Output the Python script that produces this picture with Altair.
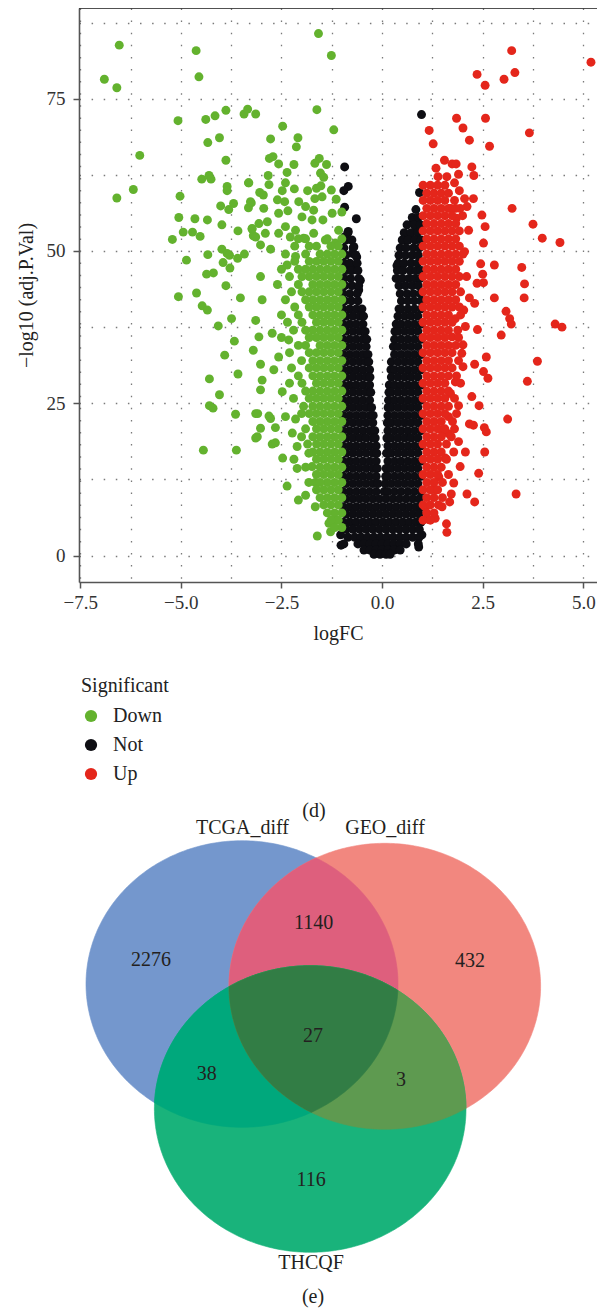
import altair as alt
import pandas as pd
import numpy as np

FONT = "Liberation Serif"

# ---------------- volcano data: (logFC, -log10 adj.P.Val) ----------------
down_sparse = [
    (-6.53, 83.8), (-6.90, 78.2), (-6.59, 76.8), (-4.62, 82.9), (-4.55, 78.6), (-6.02, 65.7), (-6.18, 60.1), (-6.59, 58.7),
    (-5.07, 71.4), (-4.38, 71.6), (-4.15, 72.2), (-3.88, 73.1), (-4.33, 67.8), (-4.04, 68.6), (-3.88, 64.9), (-3.43, 72.5),
    (-3.34, 73.3), (-3.14, 72.5), (-5.02, 59.0), (-4.48, 61.8), (-4.30, 62.4), (-4.25, 61.8), (-3.85, 60.6), (-3.85, 59.9),
    (-3.32, 61.2), (-4.01, 57.4), (-3.81, 56.8), (-3.69, 57.8), (-3.32, 57.1), (-3.25, 57.9), (-5.05, 55.5), (-4.65, 55.3),
    (-4.34, 55.1), (-3.98, 54.3), (-3.58, 53.3), (-3.23, 53.6), (-3.20, 52.5), (-5.21, 51.9), (-4.94, 53.1), (-4.71, 53.1),
    (-4.52, 52.4), (-3.98, 50.3), (-3.85, 49.6), (-3.79, 49.3), (-3.59, 48.8), (-3.42, 49.5), (-4.86, 48.5), (-4.33, 49.4),
    (-3.95, 48.1), (-3.78, 47.2), (-4.36, 46.2), (-4.19, 46.4), (-3.88, 44.3), (-5.06, 42.5), (-4.61, 43.1), (-3.52, 42.3),
    (-4.47, 41.0), (-4.34, 40.3), (-3.74, 38.9), (-4.07, 37.7), (-3.14, 38.6), (-3.67, 35.2), (-3.20, 33.7), (-3.91, 32.9),
    (-4.29, 29.0), (-3.58, 29.8), (-4.04, 26.4), (-4.29, 24.6), (-4.20, 24.2), (-3.64, 23.2), (-3.14, 23.3), (-3.14, 19.3),
    (-4.44, 17.3), (-3.62, 17.3),
    (-1.58, 85.7), (-1.26, 82.1), (-1.62, 73.2), (-1.20, 69.9), (-2.47, 70.5), (-2.77, 68.4), (-2.09, 68.6), (-2.13, 67.1),
    (-2.80, 65.2), (-2.71, 65.5), (-2.57, 64.3), (-2.19, 64.2), (-1.67, 64.4), (-1.56, 65.2), (-1.38, 64.2), (-2.36, 62.9),
    (-2.83, 62.4), (-3.31, 61.2), (-2.81, 60.9), (-2.40, 61.2), (-2.48, 59.9), (-2.18, 60.2), (-1.53, 62.8), (-1.45, 62.1),
    (-1.85, 59.9), (-1.63, 60.3), (-1.52, 60.7), (-1.26, 60.0), (-1.67, 58.6), (-1.49, 58.9), (-3.04, 59.6), (-2.95, 59.2),
    (-3.27, 58.1), (-2.60, 58.4), (-2.42, 58.1), (-2.94, 57.0), (-2.57, 56.2), (-2.34, 56.6), (-2.07, 58.1), (-1.90, 57.3),
    (-1.70, 56.7), (-1.99, 55.6), (-1.74, 55.1), (-1.47, 55.1), (-1.24, 56.2), (-1.14, 58.5), (-1.00, 56.4), (-3.23, 53.7),
    (-3.06, 54.5), (-2.85, 54.8), (-3.14, 52.3), (-2.90, 52.9), (-2.40, 54.0), (-2.57, 52.9), (-2.28, 52.3), (-2.15, 53.4),
    (-1.95, 52.1), (-1.70, 52.9), (-1.41, 51.8), (-1.16, 51.3), (-1.08, 53.4), (-3.02, 51.0), (-2.77, 50.3), (-2.15, 49.1),
    (-2.36, 47.7), (-3.02, 45.8),
    (-2.98, 42.0), (-3.02, 31.4), (-2.98, 28.8), (-3.02, 27.2), (-3.09, 23.3), (-3.02, 20.9), (-3.10, 19.5), (-2.77, 22.5),
    (-2.65, 21.0), (-2.73, 18.3), (-2.65, 18.5), (-2.47, 16.0), (-2.19, 15.8), (-2.11, 14.3), (-2.36, 11.4), (-2.08, 9.1),
    (-1.90, 9.9), (-1.82, 12.0), (-1.66, 12.0), (-1.66, 8.0), (-1.32, 5.3), (-1.28, 3.9), (-1.61, 3.2), (-1.16, 5.8),
    (-3.06, 35.9), (-2.69, 30.5), (-2.48, 26.9), (-2.81, 22.9), (-2.40, 22.8), (-2.15, 22.4), (-2.23, 20.1), (-2.11, 17.9),
    (-1.82, 16.8), (-1.74, 14.6), (-2.57, 32.6), (-2.32, 35.4), (-2.73, 36.5),
]
down_dense = {
    52.0: [-1.0, -1.36, -1.9, -2.08], 50.8: [-1.09, -1.27, -1.63, -1.81, -2.17],
    49.5: [-1.0, -1.18, -1.36, -1.54, -1.9, -2.4], 48.3: [-1.09, -1.27, -1.45, -1.63, -1.81, -2.17],
    47.0: [-1.0, -1.18, -1.36, -1.54, -1.72, -1.9, -2.08, -2.5], 45.8: [-1.09, -1.27, -1.45, -1.63, -1.81, -1.99, -2.3],
    44.5: [-1.0, -1.18, -1.36, -1.54, -1.72, -2.08, -2.6], 43.3: [-1.09, -1.27, -1.45, -1.63, -1.81, -1.99, -2.25],
    42.0: [-1.0, -1.18, -1.36, -1.54, -1.72, -1.9, -2.4], 40.8: [-1.09, -1.27, -1.45, -1.63, -1.81, -2.17],
    39.5: [-1.0, -1.18, -1.36, -1.54, -1.72, -2.08, -2.5], 38.3: [-1.09, -1.27, -1.45, -1.63, -1.99, -2.35],
    37.0: [-1.0, -1.18, -1.36, -1.54, -1.72, -1.9, -2.2], 35.8: [-1.09, -1.27, -1.45, -1.63, -1.81, -2.5],
    34.5: [-1.0, -1.18, -1.36, -1.54, -1.9, -2.08], 33.3: [-1.09, -1.27, -1.45, -1.63, -1.81, -2.3],
    32.0: [-1.0, -1.18, -1.36, -1.54, -1.72, -2.0], 30.8: [-1.09, -1.27, -1.45, -1.63, -1.81, -2.25],
    29.5: [-1.0, -1.18, -1.36, -1.54, -1.72, -2.08], 28.3: [-1.09, -1.27, -1.45, -1.63, -1.99, -2.3],
    27.0: [-1.0, -1.18, -1.36, -1.54, -1.72, -1.9], 25.8: [-1.09, -1.27, -1.45, -1.63, -1.81, -2.2],
    24.5: [-1.0, -1.18, -1.36, -1.54, -1.72, -1.95], 23.3: [-1.09, -1.27, -1.45, -1.63, -1.81, -2.0],
    22.0: [-1.0, -1.18, -1.36, -1.54, -1.72], 20.8: [-1.09, -1.27, -1.45, -1.63, -1.9],
    19.5: [-1.0, -1.18, -1.36, -1.54, -1.72, -2.0], 18.3: [-1.09, -1.27, -1.45, -1.63, -1.85],
    17.0: [-1.0, -1.18, -1.36, -1.54, -1.72], 15.8: [-1.09, -1.27, -1.45, -1.63],
    14.5: [-1.0, -1.18, -1.36, -1.54, -1.9], 13.3: [-1.09, -1.27, -1.45, -1.63],
    12.0: [-1.0, -1.18, -1.36, -1.54], 10.8: [-1.09, -1.27, -1.45, -1.63],
    9.5: [-1.0, -1.18, -1.36, -1.54], 8.3: [-1.09, -1.27, -1.45], 7.0: [-1.0, -1.18, -1.36],
    5.8: [-1.09, -1.27], 4.6: [-1.0, -1.18],
}
not_sparse = [
    (-0.93, 63.8), (-0.84, 60.6), (-0.95, 59.9), (-0.93, 57.2), (-0.64, 55.3), (-0.84, 53.2), (-0.93, 52.3),
    (-0.70, 50.7), (-0.74, 49.6), (-0.63, 49.0), (-0.54, 45.2), (-0.58, 43.6), (-0.66, 47.2), (-0.81, 47.4),
    (0.98, 72.4), (0.93, 59.6), (0.84, 56.8), (0.78, 54.8), (0.54, 51.8), (0.68, 52.6), (0.83, 53.4),
    (0.37, 47.6), (0.50, 46.9), (-1.03, 3.4), (-1.02, 1.7), (0.91, 1.4), (0.99, 3.4),
]
not_dense = {
    55.5: [0.75, 0.9], 54.3: [0.62, 0.8, 0.95], 53.0: [-0.85, 0.55, 0.72, 0.88],
    51.8: [-0.9, -0.75, 0.5, 0.65, 0.82, 0.97], 50.5: [-0.95, -0.72, 0.45, 0.6, 0.78, 0.93],
    49.3: [-0.9, -0.65, 0.42, 0.58, 0.75, 0.9], 48.0: [-0.95, -0.8, -0.62, 0.4, 0.55, 0.72, 0.88],
    46.8: [-0.9, -0.75, -0.6, 0.38, 0.52, 0.7, 0.85, 0.97], 45.5: [-0.95, -0.78, -0.58, 0.35, 0.5, 0.67, 0.82, 0.95],
    44.3: [-0.92, -0.75, -0.58, 0.42, 0.58, 0.75, 0.9], 43.0: [-0.97, -0.8, -0.62, 0.45, 0.62, 0.78, 0.95],
    41.8: [-0.92, -0.76, -0.6, 0.48, 0.64, 0.8, 0.96],
    40.5: [-0.97, -0.805, -0.64, -0.5, 0.42, 0.475, 0.64, 0.805, 0.97],
    39.3: [-0.89, -0.725, -0.56, -0.46, 0.395, 0.56, 0.725, 0.89],
    38.0: [-0.97, -0.805, -0.64, -0.475, 0.35, 0.475, 0.64, 0.805, 0.97],
    36.8: [-0.89, -0.725, -0.56, -0.42, 0.32, 0.395, 0.56, 0.725, 0.89],
    35.5: [-0.97, -0.805, -0.64, -0.475, -0.38, 0.31, 0.475, 0.64, 0.805, 0.97],
    34.3: [-0.89, -0.725, -0.56, -0.395, 0.28, 0.395, 0.56, 0.725, 0.89],
    33.0: [-0.97, -0.805, -0.64, -0.475, -0.35, 0.31, 0.475, 0.64, 0.805, 0.97],
    31.8: [-0.89, -0.725, -0.56, -0.395, -0.33, 0.23, 0.395, 0.56, 0.725, 0.89],
    30.5: [-0.97, -0.805, -0.64, -0.475, -0.31, 0.22, 0.31, 0.475, 0.64, 0.805, 0.97],
    29.3: [-0.89, -0.725, -0.56, -0.395, -0.3, 0.23, 0.395, 0.56, 0.725, 0.89],
    28.0: [-0.97, -0.805, -0.64, -0.475, -0.31, 0.18, 0.31, 0.475, 0.64, 0.805, 0.97],
    26.8: [-0.89, -0.725, -0.56, -0.395, -0.28, 0.17, 0.23, 0.395, 0.56, 0.725, 0.89],
    25.5: [-0.97, -0.805, -0.64, -0.475, -0.31, 0.16, 0.31, 0.475, 0.64, 0.805, 0.97],
    24.3: [-0.89, -0.725, -0.56, -0.395, -0.26, 0.15, 0.23, 0.395, 0.56, 0.725, 0.89],
    23.0: [-0.97, -0.805, -0.64, -0.475, -0.31, -0.22, 0.145, 0.31, 0.475, 0.64, 0.805, 0.97],
    21.8: [-0.89, -0.725, -0.56, -0.395, -0.23, 0.13, 0.23, 0.395, 0.56, 0.725, 0.89],
    20.5: [-0.97, -0.805, -0.64, -0.475, -0.31, -0.18, 0.145, 0.31, 0.475, 0.64, 0.805, 0.97],
    19.3: [-0.89, -0.725, -0.56, -0.395, -0.23, -0.17, 0.12, 0.23, 0.395, 0.56, 0.725, 0.89],
    18.0: [-0.97, -0.805, -0.64, -0.475, -0.31, -0.145, 0.145, 0.31, 0.475, 0.64, 0.805, 0.97],
    16.8: [-0.89, -0.725, -0.56, -0.395, -0.23, -0.13, 0.11, 0.23, 0.395, 0.56, 0.725, 0.89],
    15.5: [-0.97, -0.805, -0.64, -0.475, -0.31, -0.145, 0.145, 0.31, 0.475, 0.64, 0.805, 0.97],
    14.3: [-0.89, -0.725, -0.56, -0.395, -0.23, -0.12, 0.1, 0.23, 0.395, 0.56, 0.725, 0.89],
    13.0: [-0.97, -0.805, -0.64, -0.475, -0.31, -0.145, 0.09, 0.145, 0.31, 0.475, 0.64, 0.805, 0.97],
    11.8: [-0.89, -0.725, -0.56, -0.395, -0.23, -0.1, 0.08, 0.23, 0.395, 0.56, 0.725, 0.89],
    10.5: [-0.97, -0.805, -0.64, -0.475, -0.31, -0.145, 0.05, 0.145, 0.31, 0.475, 0.64, 0.805, 0.97],
    9.3: [-0.89, -0.725, -0.56, -0.395, -0.23, -0.065, 0.1, 0.265, 0.43, 0.595, 0.76, 0.925],
    8.0: [-0.97, -0.805, -0.64, -0.475, -0.31, -0.145, 0.02, 0.185, 0.35, 0.515, 0.68, 0.845, 0.97],
    6.8: [-0.89, -0.725, -0.56, -0.395, -0.23, -0.065, 0.1, 0.265, 0.43, 0.595, 0.76, 0.925],
    5.5: [-0.97, -0.805, -0.64, -0.475, -0.31, -0.145, 0.02, 0.185, 0.35, 0.515, 0.68, 0.845, 0.97],
    4.3: [-0.89, -0.725, -0.56, -0.395, -0.23, -0.065, 0.1, 0.265, 0.43, 0.595, 0.76, 0.925],
    3.0: [-0.85, -0.68, -0.52, -0.36, -0.2, -0.04, 0.12, 0.28, 0.44, 0.6, 0.76, 0.92],
    1.9: [-0.95, -0.6, -0.45, -0.3, -0.15, 0.0, 0.15, 0.3, 0.45, 0.6, 0.9],
    0.9: [-0.45, -0.3, -0.15, 0.0, 0.15, 0.3, 0.45],
    0.2: [-0.2, -0.05, 0.1, 0.2],
}
up_sparse = [
    (3.22, 82.9), (5.19, 81.0), (2.36, 79.0), (2.56, 77.2), (3.03, 78.2), (3.30, 79.3), (1.85, 71.8), (2.57, 71.8),
    (2.01, 70.2), (1.17, 69.8), (3.66, 69.4), (1.27, 67.6), (2.17, 68.2), (2.67, 67.2), (1.55, 64.9), (1.74, 64.3),
    (1.84, 64.3), (2.23, 63.8), (2.28, 62.4), (1.34, 63.6), (1.39, 62.2), (1.61, 62.2), (1.90, 62.6), (1.80, 61.2),
    (1.92, 59.9), (2.05, 58.6), (2.27, 58.6), (2.11, 57.3), (1.94, 57.0), (1.71, 57.0), (1.85, 55.4), (2.48, 55.9),
    (2.56, 54.0), (2.15, 53.4), (2.52, 51.3), (2.05, 49.9), (3.23, 57.0), (3.75, 54.4), (3.98, 52.1), (4.42, 51.4),
    (2.45, 47.9), (2.79, 47.7), (2.50, 46.2), (2.36, 44.7), (2.52, 44.8), (3.47, 47.3), (3.54, 44.6), (3.53, 42.3),
    (2.79, 42.3), (2.17, 42.3), (2.30, 41.4), (3.08, 40.1), (3.17, 38.9), (3.21, 38.0), (4.30, 38.0), (4.47, 37.5),
    (2.37, 37.1), (2.96, 36.2), (3.86, 31.9), (3.61, 28.6), (2.59, 32.6), (2.30, 31.4), (2.52, 30.2), (2.63, 29.1),
    (2.01, 34.6), (2.01, 31.0), (2.23, 26.1), (2.41, 24.6), (1.90, 24.6), (3.12, 22.4), (2.17, 21.6), (2.27, 21.4),
    (2.54, 21.0), (2.59, 20.3), (2.55, 17.0), (2.40, 13.5), (2.11, 10.1), (2.30, 8.8), (3.33, 10.1), (1.60, 5.2),
    (1.61, 3.8), (1.65, 20.0), (1.90, 18.7), (2.07, 17.0), (1.94, 14.6), (1.78, 11.9), (1.72, 10.1), (1.68, 8.8),
    (1.49, 8.0), (1.32, 6.1), (1.16, 5.9), (1.82, 38.9), (2.07, 37.6), (2.03, 40.3), (1.74, 35.9), (1.98, 33.2),
    (1.82, 28.5), (1.70, 26.6), (1.65, 22.8), (1.49, 20.6), (1.57, 16.0), (1.41, 12.9), (1.32, 10.8), (1.07, 8.0),
]
up_dense = {
    60.8: [1.02, 1.2, 1.38, 1.56], 59.5: [1.11, 1.29, 1.47, 1.65], 58.3: [1.02, 1.2, 1.38, 1.56, 1.8],
    57.0: [1.11, 1.29, 1.47, 1.65, 1.83], 55.8: [1.02, 1.2, 1.38, 1.56, 1.74, 2.0],
    54.5: [1.11, 1.29, 1.47, 1.65, 1.83], 53.3: [1.02, 1.2, 1.38, 1.56, 1.74, 1.92],
    52.0: [1.11, 1.29, 1.47, 1.65, 1.83], 50.8: [1.02, 1.2, 1.38, 1.56, 1.74, 1.92],
    49.5: [1.11, 1.29, 1.47, 1.65, 1.83, 2.01], 48.3: [1.02, 1.2, 1.38, 1.56, 1.74, 1.92],
    47.0: [1.11, 1.29, 1.47, 1.65, 1.83], 45.8: [1.02, 1.2, 1.38, 1.56, 1.74, 1.92, 2.1],
    44.5: [1.11, 1.29, 1.47, 1.65, 1.83], 43.3: [1.02, 1.2, 1.38, 1.56, 1.74, 1.95],
    42.0: [1.11, 1.29, 1.47, 1.65, 1.83], 40.8: [1.02, 1.2, 1.38, 1.56, 1.74, 1.92],
    39.5: [1.11, 1.29, 1.47, 1.65, 1.95], 38.3: [1.02, 1.2, 1.38, 1.56, 1.74],
    37.0: [1.11, 1.29, 1.47, 1.65, 1.88], 35.8: [1.02, 1.2, 1.38, 1.56, 1.9],
    34.5: [1.11, 1.29, 1.47, 1.65, 1.83], 33.3: [1.02, 1.2, 1.38, 1.56, 1.74],
    32.0: [1.11, 1.29, 1.47, 1.65, 1.9], 30.8: [1.02, 1.2, 1.38, 1.56, 1.74],
    29.5: [1.11, 1.29, 1.47, 1.65, 1.85], 28.3: [1.02, 1.2, 1.38, 1.56, 1.95],
    27.0: [1.11, 1.29, 1.47, 1.65], 25.8: [1.02, 1.2, 1.38, 1.56, 1.8],
    24.5: [1.11, 1.29, 1.47, 1.65], 23.3: [1.02, 1.2, 1.38, 1.56, 1.85],
    22.0: [1.11, 1.29, 1.47, 1.75], 20.8: [1.02, 1.2, 1.38, 1.56, 1.8],
    19.5: [1.11, 1.29, 1.47, 1.72], 18.3: [1.02, 1.2, 1.38, 1.6],
    17.0: [1.11, 1.29, 1.47, 1.78], 15.8: [1.02, 1.2, 1.38, 1.6],
    14.5: [1.11, 1.29, 1.47], 13.3: [1.02, 1.2, 1.38, 1.65], 12.0: [1.11, 1.29, 1.5],
    10.8: [1.02, 1.2, 1.38], 9.5: [1.11, 1.29, 1.5], 8.3: [1.02, 1.2, 1.4],
    7.0: [1.11, 1.29], 5.8: [1.02, 1.2],
}
sig_levels = ["Down", "Not", "Up"]
sig_colors = ["#63b22e", "#0e0e13", "#e4261b"]
x_grid_values = [-7.5, -6.25, -5.0, -3.75, -2.5, -1.25, 0.0, 1.25, 2.5, 3.75, 5.0]
y_grid_values = [0, 12.5, 25, 37.5, 50, 62.5, 75, 87.5]

# ---------------- Venn data ----------------
venn_sets = ["TCGA_diff", "GEO_diff", "THCQF"]
venn_counts = [2276, 1140, 432, 27, 38, 3, 116]
captions = ["(d)", "(e)"]

# ---------------- Venn layout (pixels inside the chart area) ----------------
ell_cx = [163.0, 305.8, 231.2]
ell_cy = [976.0, 978.3, 1101.0]
ell_rx = [156.0, 155.8, 155.8]
ell_ry = [143.3, 143.0, 143.3]
count_px = [72.0, 234.7, 391.0, 234.0, 127.7, 322.0, 232.0]
count_py = [952.0, 914.5, 953.0, 1028.0, 1066.0, 1072.0, 1172.0]
set_px = [163.5, 306.0, 232.0]
set_py = [820.0, 820.0, 1254.5]
caption_px = [235.0, 234.0]
caption_py = [803.0, 1288.5]
# fills in painting order: A, B, A&B, C, A&C, B&C, A&B&C
region_fill = ["#7497cd", "#f2877f", "#de5f7d", "#19b37b", "#00a87c", "#5e9a50", "#327d45"]

W, H = 518, 574
TOTAL_H = 1300

# ---------------- volcano ----------------
recs = []
for sig, sparse, dense in (("Not", not_sparse, not_dense), ("Down", down_sparse, down_dense), ("Up", up_sparse, up_dense)):
    for x, y in sparse:
        recs.append({"logFC": x, "nlp": y, "Significant": sig})
    for y, xs in dense.items():
        for x in xs:
            recs.append({"logFC": x, "nlp": y, "Significant": sig})
pts = pd.DataFrame(recs)

grid_common = dict(grid=True, gridColor="#7a7a7a", gridWidth=1.3, gridDash=[1.5, 10.6],
                   domainColor="#555555", domainWidth=1.6, tickColor="#555555", tickWidth=1.5, tickSize=6,
                   labelFont=FONT, labelFontSize=19, labelColor="#333333",
                   titleFont=FONT, titleFontSize=20, titleFontWeight="normal", titleColor="#222222")

x_axis = alt.Axis(values=x_grid_values, title="logFC",
                  labelExpr="datum.value % 2.5 == 0 ? format(datum.value, '.1f') : ''",
                  tickOpacity={"condition": {"test": "datum.value % 2.5 != 0", "value": 0}, "value": 1},
                  labelPadding=5, titlePadding=11, **grid_common)
y_axis = alt.Axis(values=y_grid_values, title="−log10 (adj.P.Val)",
                  labelExpr="datum.value % 25 == 0 ? format(datum.value, 'd') : ''",
                  tickOpacity={"condition": {"test": "datum.value % 25 != 0", "value": 0}, "value": 1},
                  labelPadding=8, titlePadding=10, **grid_common)

points = alt.Chart(pts).mark_circle(size=80, opacity=1).encode(
    x=alt.X("logFC:Q", scale=alt.Scale(domain=[-7.53, 5.34], nice=False, zero=False), axis=x_axis),
    y=alt.Y("nlp:Q", scale=alt.Scale(domain=[-4.35, 89.9], nice=False, zero=False), axis=y_axis),
    color=alt.Color("Significant:N",
                    scale=alt.Scale(domain=sig_levels, range=sig_colors),
                    legend=alt.Legend(title="Significant", orient="none", legendX=2, legendY=668,
                                      direction="vertical", padding=0,
                                      titleFont=FONT, titleFontSize=20, titleFontWeight="normal",
                                      titleColor="#222222", titlePadding=10,
                                      labelFont=FONT, labelFontSize=20, labelColor="#222222", labelOffset=12,
                                      symbolType="circle", symbolSize=150, symbolStrokeWidth=0,
                                      rowPadding=9)),
)

border = alt.Chart(pd.DataFrame({"edge": ["top"]})).mark_rule(color="#222222", strokeWidth=1.5).encode(
    x=alt.value(0), x2=alt.value(W), y=alt.value(0))

volcano = alt.layer(points, border)

# ---------------- Venn geometry ----------------
def ellipse(i, n=360):
    t = np.linspace(0, 2 * np.pi, n, endpoint=False)
    return list(zip(ell_cx[i] + ell_rx[i] * np.cos(t), ell_cy[i] + ell_ry[i] * np.sin(t)))


def signed_area(poly):
    s = 0.0
    for k in range(len(poly)):
        x1, y1 = poly[k]
        x2, y2 = poly[(k + 1) % len(poly)]
        s += x1 * y2 - x2 * y1
    return s / 2


def clip(subject, clipper):
    sgn = 1 if signed_area(clipper) > 0 else -1

    def inside(p, a, b):
        return sgn * ((b[0] - a[0]) * (p[1] - a[1]) - (b[1] - a[1]) * (p[0] - a[0])) >= 0

    def inter(p, q, a, b):
        x1, y1 = p; x2, y2 = q; x3, y3 = a; x4, y4 = b
        d = (x1 - x2) * (y3 - y4) - (y1 - y2) * (x3 - x4)
        t = ((x1 - x3) * (y3 - y4) - (y1 - y3) * (x3 - x4)) / d
        return (x1 + t * (x2 - x1), y1 + t * (y2 - y1))

    out = list(subject)
    for k in range(len(clipper)):
        a, b = clipper[k], clipper[(k + 1) % len(clipper)]
        inp, out = out, []
        if not inp:
            break
        s = inp[-1]
        for e in inp:
            if inside(e, a, b):
                if not inside(s, a, b):
                    out.append(inter(s, e, a, b))
                out.append(e)
            elif inside(s, a, b):
                out.append(inter(s, e, a, b))
            s = e
    return out


A, B, C = ellipse(0), ellipse(1), ellipse(2)
AB = clip(A, B)
polys = [A, B, AB, C, clip(A, C), clip(B, C), clip(AB, C)]

XS = alt.Scale(domain=[0, W], range=[0, W], nice=False, zero=False)
YS = alt.Scale(domain=[0, TOTAL_H], range=[0, TOTAL_H], nice=False, zero=False)

venn_layers = []
for poly, col in zip(polys, region_fill):
    closed = poly + [poly[0]]
    df = pd.DataFrame({"px": [p[0] for p in closed], "py": [p[1] for p in closed], "i": list(range(len(closed)))})
    venn_layers.append(
        alt.Chart(df).mark_line(fill=col, stroke=col, strokeWidth=0.6).encode(
            x=alt.X("px:Q", scale=XS, axis=None),
            y=alt.Y("py:Q", scale=YS, axis=None),
            order=alt.Order("i:Q"),
        )
    )

labels = pd.DataFrame({
    "px": count_px + set_px + caption_px,
    "py": count_py + set_py + caption_py,
    "txt": [str(c) for c in venn_counts] + venn_sets + captions,
})
texts = alt.Chart(labels).mark_text(font=FONT, fontSize=20, color="#231f20", align="center", baseline="middle").encode(
    x=alt.X("px:Q", scale=XS, axis=None),
    y=alt.Y("py:Q", scale=YS, axis=None),
    text="txt:N",
)
venn = alt.layer(*venn_layers, texts)

chart = (
    alt.layer(volcano, venn)
    .resolve_scale(x="independent", y="independent")
    .properties(width=W, height=H, autosize=alt.AutoSizeParams(type="none"),
                padding={"left": 71, "top": 0, "right": 0, "bottom": TOTAL_H - H})
    .configure_view(stroke=None)
    .configure(font=FONT)
)

chart.save("out.html", embed_options={"renderer": "svg", "actions": False})
